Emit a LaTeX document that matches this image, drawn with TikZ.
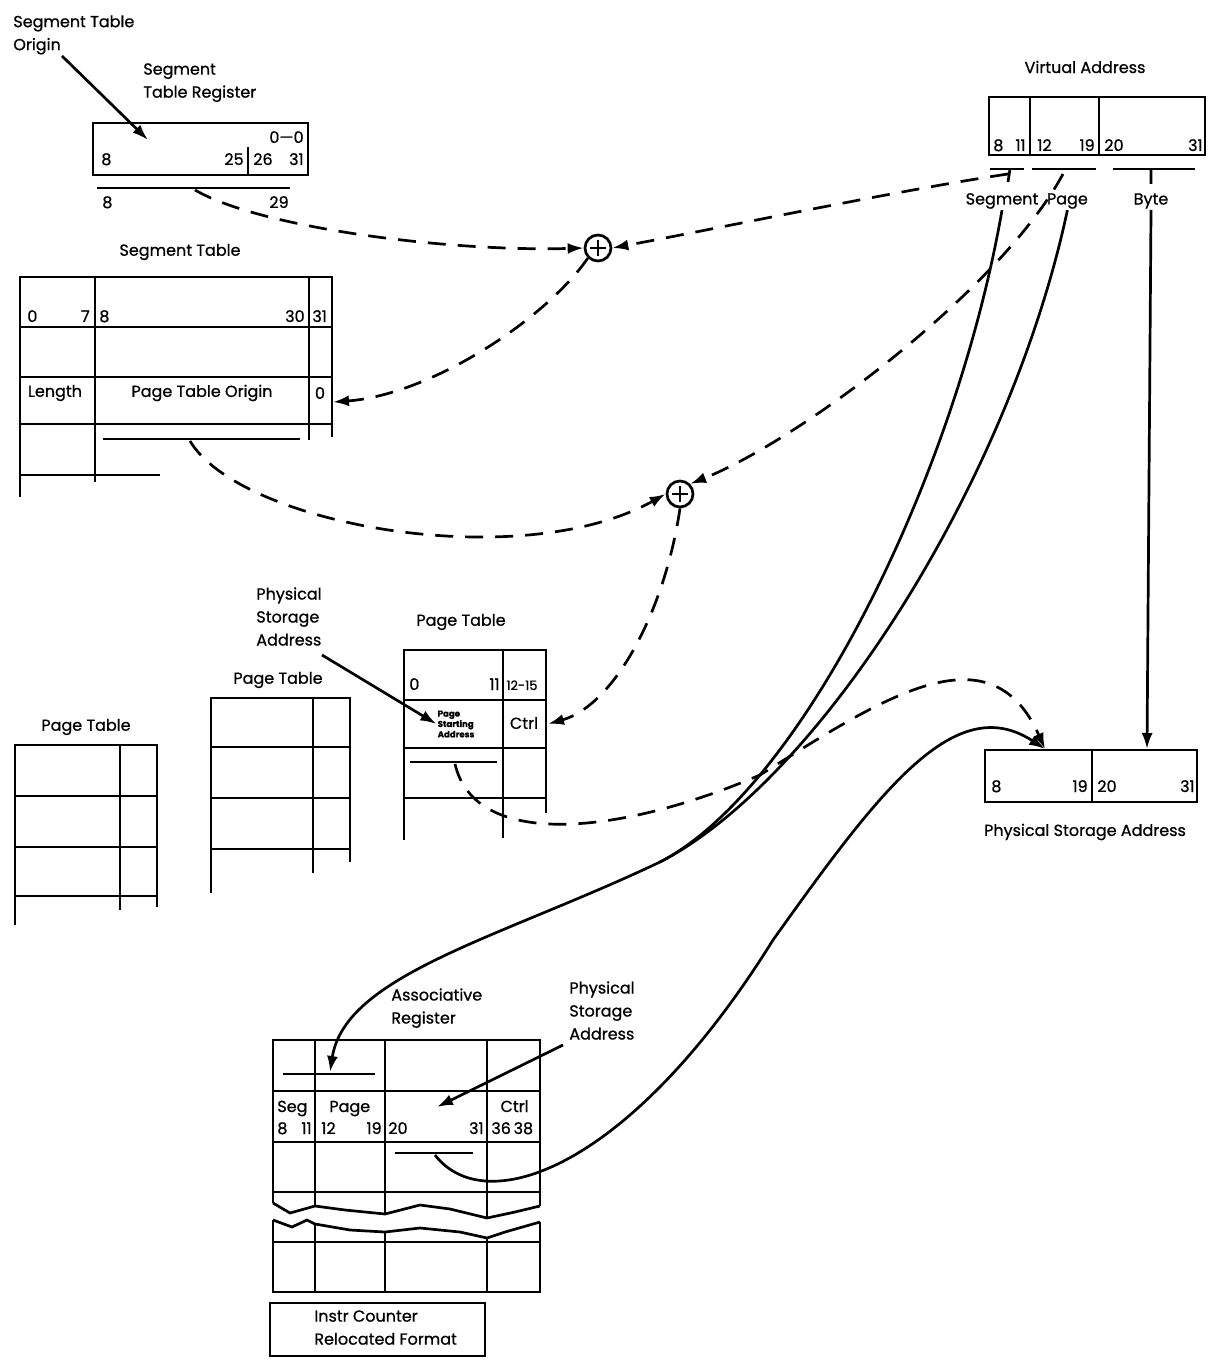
\documentclass[tikz,border=0pt]{standalone}
\usepackage{fontspec}
\setmainfont{Poppins}[FakeBold=0.8]
\usetikzlibrary{arrows.meta,positioning}

\begin{document}
\begin{tikzpicture}[x=0.5pt,y=-0.5pt,line width=1.35pt,
  lbl/.style={font=\fontsize{8}{11.5}\selectfont,inner sep=0pt,align=left},
  num/.style={font=\fontsize{8}{10}\selectfont,inner sep=0pt},
  tiny/.style={font=\fontsize{4.3}{5.2}\selectfont\bfseries,inner sep=0pt,align=left},
  link/.style={dash pattern=on 9pt off 6pt},
  arr/.style={-{Latex[length=8pt,width=5.5pt]}},
  adder/.style={circle,draw,minimum size=13pt,inner sep=0pt}]
  \useasboundingbox (0,0) rectangle (1209,1368);

  % segment table register
  \node[lbl,anchor=north west] (sto) at (12,14) {Segment Table\\Origin};
  \node[lbl,anchor=north west] (strlbl) at (142,62) {Segment\\Table Register};
  \draw (93,123) rectangle (308,175);
  \draw (248,147) -- (248,175);
  \node[num,anchor=base east] at (305,143) {0---0};
  \node[num,anchor=base west] at (100,165) {8};
  \node[num,anchor=base east] at (245,165) {25};
  \node[num,anchor=base west] at (252,165) {26};
  \node[num,anchor=base east] at (305,165) {31};
  \draw (97,188) -- (290,188);
  \node[num,anchor=base west] at (101,208) {8};
  \node[num,anchor=base east] at (290,208) {29};
  \coordinate (strbus) at (195,190);
  \coordinate (stohead) at (148,140);
  \draw[arr] (62,56) -- (stohead);

  % virtual address
  \node[lbl] (valbl) at (1085,67) {Virtual Address};
  \draw (989,97) rectangle (1205,155);
  \draw (1030,97) -- (1030,155) (1099,97) -- (1099,155);
  \node[num,anchor=base west] at (992,151) {8};
  \node[num,anchor=base east] at (1027,151) {11};
  \node[num,anchor=base west] at (1036,151) {12};
  \node[num,anchor=base east] at (1096,151) {19};
  \node[num,anchor=base west] at (1103,151) {20};
  \node[num,anchor=base east] at (1204,151) {31};
  \draw (990,169) -- (1024,169) (1032,169) -- (1096,169) (1113,169) -- (1195,169);
  \draw (1010,169) -- (1008,182) (1151,169) -- (1151,184);
  \coordinate (segtick) at (1008,174);
  \coordinate (pagetick) at (1063,174);
  \node[lbl] (segw) at (1002,201) {Segment};
  \node[lbl,right=3pt of segw] (pagew) {Page};
  \node[lbl] (bytew) at (1151,201) {Byte};

  % segment table
  \node[lbl] (stlbl) at (180,252) {Segment Table};
  \draw (20,497) -- (20,277) -- (332,277) -- (332,437);
  \draw (95,277) -- (95,482) (309,277) -- (309,440);
  \draw (20,327) -- (332,327) (20,377) -- (332,377) (20,424) -- (332,424);
  \draw (20,475) -- (160,475);
  \draw (103,439) -- (300,439);
  \node[num,anchor=base west] at (26,322) {0};
  \node[num,anchor=base east] at (91,322) {7};
  \node[num,anchor=base west] at (98,322) {8};
  \node[num,anchor=base east] at (306,322) {30};
  \node[num,anchor=base west] at (311,322) {31};
  \node[lbl] at (55,393) {Length};
  \node[lbl] at (202,393) {Page Table Origin};
  \node[lbl] at (320,393) {0};
  \coordinate (ptocell) at (333,402);
  \coordinate (stbus) at (190,441);

  % adders
  \node[adder] (adda) at (598,248) {};
  \node[adder] (addb) at (680,494) {};
  \foreach \a in {adda,addb}
    \draw[line width=1pt] ([xshift=-4pt]\a.center) -- ([xshift=4pt]\a.center)
      ([yshift=-4pt]\a.center) -- ([yshift=4pt]\a.center);

  % page tables
  \node[lbl] (pt1lbl) at (86,727) {Page Table};
  \draw (15,925) -- (15,745) -- (157,745) -- (157,907);
  \draw (120,745) -- (120,910);
  \foreach \r in {796,847,896} \draw (15,\r) -- (157,\r);

  \node[lbl] (pt2lbl) at (278,680) {Page Table};
  \draw (211,893) -- (211,698) -- (350,698) -- (350,862);
  \draw (313,698) -- (313,873);
  \foreach \r in {747,798,849} \draw (211,\r) -- (350,\r);

  \node[lbl] (pt3lbl) at (461,622) {Page Table};
  \draw (404,840) -- (404,650) -- (546,650) -- (546,813);
  \draw (503,650) -- (503,838);
  \foreach \r in {700,748,798} \draw (404,\r) -- (546,\r);
  \node[num,anchor=base west] at (408,690) {0};
  \node[num,anchor=base east] at (501,690) {11};
  \node[num,anchor=base west,font=\fontsize{6.5}{8}\selectfont] at (505,690) {12-15};
  \node[tiny] (psa) at (456,724) {Page\\Starting\\Address};
  \node[lbl] at (524,723) {Ctrl};
  \draw (410,762) -- (497,762);
  \coordinate (ctrlcell) at (548,724);
  \coordinate (ptbus) at (455,764);
  \node[lbl,anchor=north west] (psalbl) at (255,586) {Physical\\Storage\\Address};
  \draw[arr] (322,655) -- (psa.west);

  % physical storage address
  \draw (985,750) rectangle (1197,802);
  \draw (1092,750) -- (1092,802);
  \node[num,anchor=base west] at (990,792) {8};
  \node[num,anchor=base east] at (1089,792) {19};
  \node[num,anchor=base west] at (1096,792) {20};
  \node[num,anchor=base east] at (1196,792) {31};
  \node[lbl] (physlbl) at (1085,832) {Physical Storage Address};
  \coordinate (physin) at (1045,749);
  \coordinate (bytein) at (1147,749);

  % associative register
  \node[lbl,anchor=north west] (arlbl) at (390,987) {Associative\\Register};
  \node[lbl,anchor=north west] (arpsa) at (568,980) {Physical\\Storage\\Address};
  \draw (273,1203) -- (273,1040) -- (540,1040) -- (540,1206);
  \draw (315,1040) -- (315,1206) (385,1040) -- (385,1214) (487,1040) -- (487,1218);
  \foreach \r in {1091,1142,1192} \draw (273,\r) -- (540,\r);
  \draw (273,1203) -- (290,1213) -- (315,1206) -- (345,1210) -- (385,1214) -- (420,1205)
    -- (450,1209) -- (487,1218) -- (515,1212) -- (540,1206);
  \draw (273,1220) -- (292,1227) -- (307,1220) -- (315,1224) -- (350,1230) -- (385,1232)
    -- (420,1228) -- (460,1232) -- (487,1238) -- (505,1232) -- (540,1222);
  \draw (273,1220) -- (273,1292) -- (540,1292) -- (540,1222);
  \draw (315,1224) -- (315,1292) (385,1232) -- (385,1292) (487,1238) -- (487,1292);
  \draw (273,1242) -- (540,1242);
  \draw (283,1074) -- (375,1074);
  \draw (395,1153) -- (473,1153);
  \node[lbl,anchor=base west] at (276,1112) {Seg};
  \node[lbl,anchor=base west] at (328,1112) {Page};
  \node[lbl,anchor=base east] at (530,1112) {Ctrl};
  \node[num,anchor=base west] at (276,1134) {8};
  \node[num,anchor=base east] at (313,1134) {11};
  \node[num,anchor=base west] at (320,1134) {12};
  \node[num,anchor=base east] at (383,1134) {19};
  \node[num,anchor=base west] at (387,1134) {20};
  \node[num,anchor=base east] at (485,1134) {31};
  \node[num,anchor=base west] at (490,1134) {36\,38};
  \coordinate (arpage) at (330,1072);
  \coordinate (arbus) at (435,1155);
  \coordinate (arpsahead) at (437,1107);
  \draw[arr] (563,1045) -- (arpsahead);
  \draw (270,1303) rectangle (485,1356);
  \node[lbl,anchor=north west] (iclbl) at (313,1309) {Instr Counter\\Relocated Format};

  % connectors
  \coordinate (merge) at (660,862);
  \draw[link,arr] (strbus) .. controls (260,228) and (450,252) .. (adda.west);
  \draw[link,arr] (segtick) .. controls (900,190) and (720,228) .. (adda.east);
  \draw[link,arr] (adda.south west) .. controls (545,320) and (430,395) .. (ptocell);
  \draw[link,arr] (stbus) .. controls (240,525) and (520,575) .. (addb.west);
  \draw[link,arr] (pagetick) .. controls (1000,290) and (800,440) .. (addb.north east);
  \draw[link,arr] (addb.south) .. controls (665,610) and (615,705) .. (ctrlcell);
  \draw[link,arr] (ptbus) .. controls (475,850) and (620,835) .. (760,775)
    .. controls (880,700) and (990,625) .. (physin);
  \draw[arr] (bytew.south) -- (bytein);
  \draw (segw.south) .. controls (955,480) and (800,790) .. (merge);
  \draw[arr] (pagew.south) .. controls (1010,480) and (820,780) .. (merge)
    .. controls (500,938) and (345,975) .. (arpage);
  \draw[arr] (arbus) .. controls (485,1220) and (630,1170) .. (773,940)
    .. controls (880,790) and (955,690) .. (physin);
\end{tikzpicture}
\end{document}
